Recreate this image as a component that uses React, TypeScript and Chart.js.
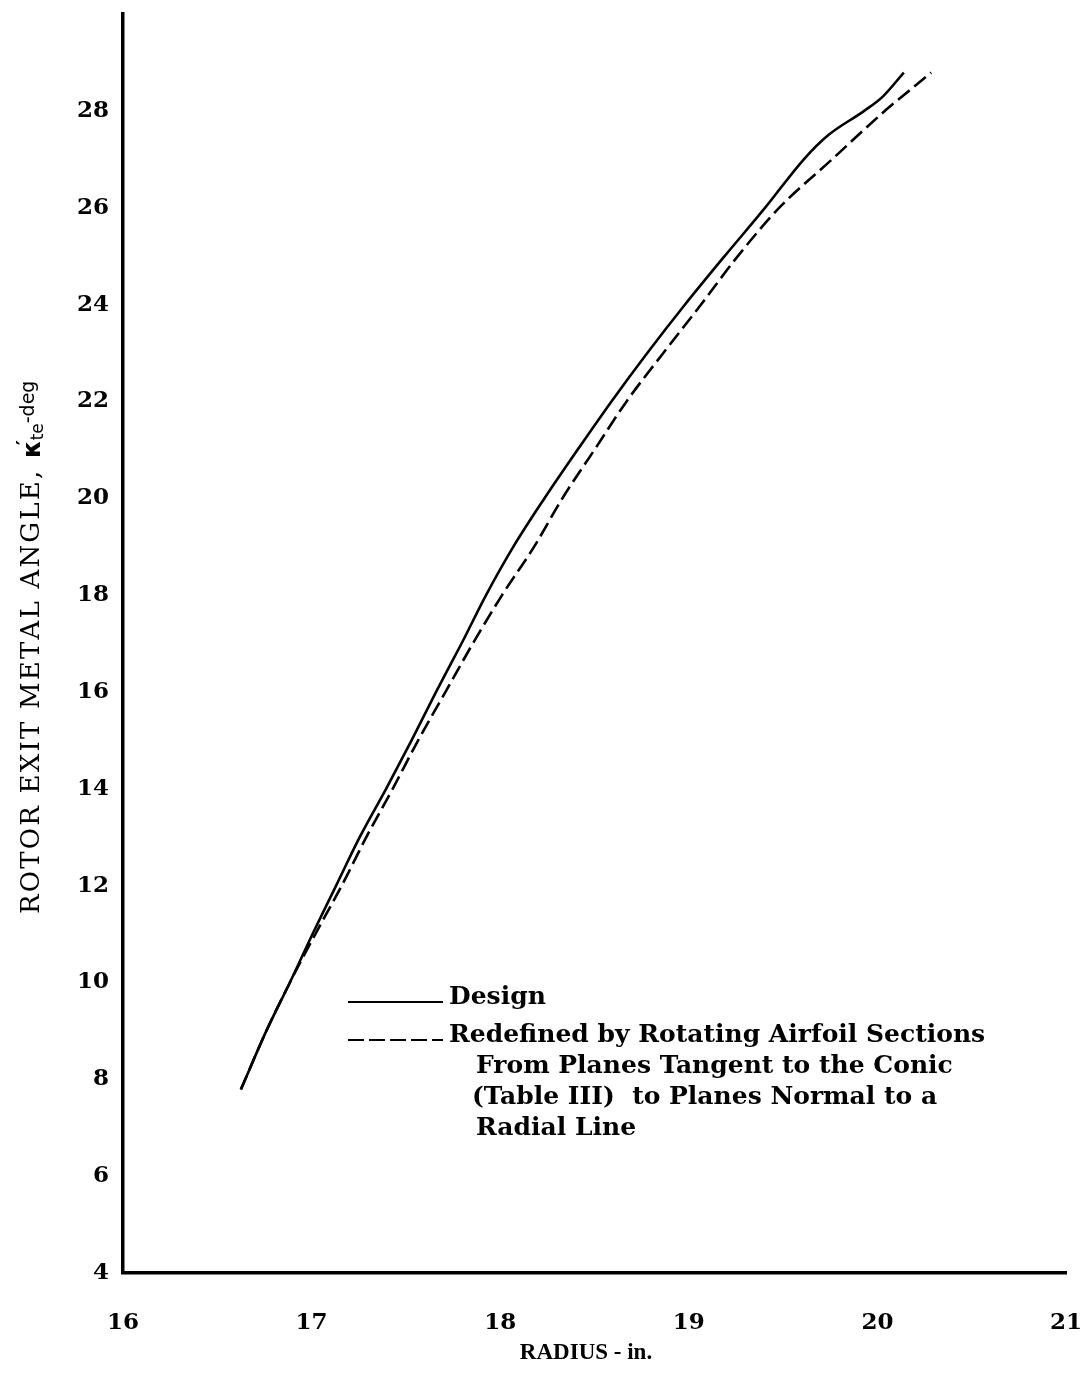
import React, { useEffect, useRef } from 'react';
import { Chart, registerables } from 'chart.js';

Chart.register(...registerables);

// Rotor exit metal angle (deg) against radius (in.)
const angleLevels = [7.79, 9, 10, 11, 12, 13, 14, 15, 16, 17, 18, 19, 20, 21, 22, 23, 24, 25, 26, 27, 27.5, 28, 28.3, 28.79];
const radiusDesign = [16.625, 16.76, 16.885, 17.005, 17.13, 17.255, 17.395, 17.53, 17.66, 17.795, 17.925, 18.07, 18.235, 18.41, 18.59, 18.78, 18.98, 19.19, 19.405, 19.61, 19.74, 19.93, 20.03, 20.14];

const angleLevelsRedefined = [7.79, 9, 10, 11, 12, 13, 14, 15, 16, 17, 18, 19, 20, 21, 22, 23, 24, 25, 26, 27, 28, 28.5, 28.79];
const radiusRedefined = [16.625, 16.76, 16.885, 17.02, 17.16, 17.29, 17.43, 17.565, 17.71, 17.855, 18.01, 18.18, 18.33, 18.5, 18.67, 18.865, 19.065, 19.26, 19.48, 19.76, 20.04, 20.195, 20.285];

const xTickValues = [16, 17, 18, 19, 20, 21];
const yTickValues = [4, 6, 8, 10, 12, 14, 16, 18, 20, 22, 24, 26, 28];

const seriesNames = ['Design', 'Redefined by Rotating Airfoil Sections'];
const redefinedNoteLines = ['From Planes Tangent to the Conic', '(Table III)  to Planes Normal to a', 'Radial Line'];

const xTitle = 'RADIUS - in.';
const yTitleMain = 'ROTOR EXIT METAL ANGLE, ';

const toPoints = (xs: number[], ys: number[]) => xs.map((x, i) => ({ x, y: ys[i] }));

const TICK_FONT = { family: "'DejaVu Serif', serif", size: 23, weight: 'bold' as const };

function drawSpaced(ctx: CanvasRenderingContext2D, text: string, x: number, y: number, spacing: number) {
  let cx = x;
  for (const ch of text) {
    ctx.fillText(ch, cx, y);
    cx += ctx.measureText(ch).width + spacing;
  }
  return cx;
}

const overlayPlugin = {
  id: 'overlayText',
  afterDraw(chart: any) {
    const ctx: CanvasRenderingContext2D = chart.ctx;
    ctx.save();
    ctx.fillStyle = '#000';
    ctx.strokeStyle = '#000';

    // x-axis title
    ctx.font = "bold 23px 'Liberation Serif', serif";
    ctx.textAlign = 'center';
    ctx.textBaseline = 'middle';
    ctx.fillText(xTitle, 586, 1353);

    // y-axis title, rotated, with kappa'te subscript
    ctx.save();
    ctx.translate(32, 914);
    ctx.rotate(-Math.PI / 2);
    ctx.textAlign = 'left';
    ctx.textBaseline = 'middle';
    ctx.font = "26px 'DejaVu Serif', serif";
    let cx = drawSpaced(ctx, yTitleMain, 0, 0, 2.2);
    ctx.font = "bold 25px 'DejaVu Sans', sans-serif";
    ctx.fillText('\u03BA', cx, 1);
    const kw = ctx.measureText('\u03BA').width;
    ctx.font = "bold 20px 'DejaVu Sans', sans-serif";
    ctx.fillText('\u2032', cx + kw - 5, -7);
    cx += kw;
    ctx.font = "17px 'DejaVu Sans', sans-serif";
    ctx.fillText('te', cx, 7);
    cx += ctx.measureText('te').width;
    ctx.font = "19px 'DejaVu Sans', sans-serif";
    ctx.fillText('-deg', cx, -3);
    ctx.restore();

    // legend
    const ds = chart.data.datasets;
    const x0 = 348;
    const x1 = 443;
    const rows = [1002, 1040];
    ds.forEach((d: any, i: number) => {
      ctx.save();
      ctx.lineWidth = 2;
      ctx.setLineDash(i === 0 ? [] : [16, 5]);
      ctx.beginPath();
      ctx.moveTo(x0, rows[i]);
      ctx.lineTo(x1, rows[i]);
      ctx.stroke();
      ctx.restore();
    });
    ctx.font = "bold 25px 'DejaVu Serif', serif";
    ctx.textAlign = 'left';
    ctx.textBaseline = 'alphabetic';
    ctx.fillText(ds[0].label, 449, 1004);
    ctx.fillText(ds[1].label, 449, 1042);
    redefinedNoteLines.forEach((line, i) => {
      ctx.fillText(line, i === 1 ? 472 : 476, 1073 + i * 31);
    });

    ctx.restore();
  },
};

export default function App() {
  const canvasRef = useRef<HTMLCanvasElement | null>(null);

  useEffect(() => {
    const canvas = canvasRef.current;
    if (!canvas) return;
    const chart = new Chart(canvas, {
      type: 'line',
      data: {
        datasets: [
          {
            label: seriesNames[0],
            data: toPoints(radiusDesign, angleLevels),
            borderColor: '#000',
            borderWidth: 2.6,
            pointRadius: 0,
            cubicInterpolationMode: 'monotone',
            fill: false,
          },
          {
            label: seriesNames[1],
            data: toPoints(radiusRedefined, angleLevelsRedefined),
            borderColor: '#000',
            borderWidth: 2.6,
            borderDash: [15, 6],
            pointRadius: 0,
            cubicInterpolationMode: 'monotone',
            fill: false,
          },
        ],
      },
      options: {
        responsive: false,
        animation: false,
        layout: { padding: { left: 0, top: 14, right: 22, bottom: 0 } },
        plugins: {
          legend: { display: false },
          tooltip: { enabled: false },
        },
        scales: {
          x: {
            type: 'linear',
            min: 16,
            max: 21,
            afterBuildTicks: (scale: any) => {
              scale.ticks = xTickValues.map((v) => ({ value: v }));
            },
            afterFit: (scale: any) => {
              scale.height = 117;
              scale.paddingLeft = 0;
              scale.paddingRight = 0;
            },
            grid: { display: false, drawTicks: false },
            border: { display: true, color: '#000', width: 3.5 },
            ticks: {
              color: '#000',
              font: TICK_FONT,
              padding: 36,
              maxRotation: 0,
              autoSkip: false,
            },
          },
          y: {
            type: 'linear',
            min: 4,
            max: 30,
            afterBuildTicks: (scale: any) => {
              scale.ticks = yTickValues.map((v) => ({ value: v }));
            },
            afterFit: (scale: any) => {
              scale.width = 123;
              scale.paddingTop = 0;
              scale.paddingBottom = 0;
            },
            grid: { display: false, drawTicks: false },
            border: { display: true, color: '#000', width: 3.5 },
            ticks: {
              color: '#000',
              font: TICK_FONT,
              padding: 14,
              autoSkip: false,
            },
          },
        },
      },
      plugins: [overlayPlugin],
    });
    return () => chart.destroy();
  }, []);

  return (
    <div style={{ position: 'absolute', left: 0, top: 0, width: 1088, height: 1390, background: '#fff' }}>
      <canvas ref={canvasRef} width={1088} height={1390} style={{ display: 'block', width: 1088, height: 1390 }} />
    </div>
  );
}
